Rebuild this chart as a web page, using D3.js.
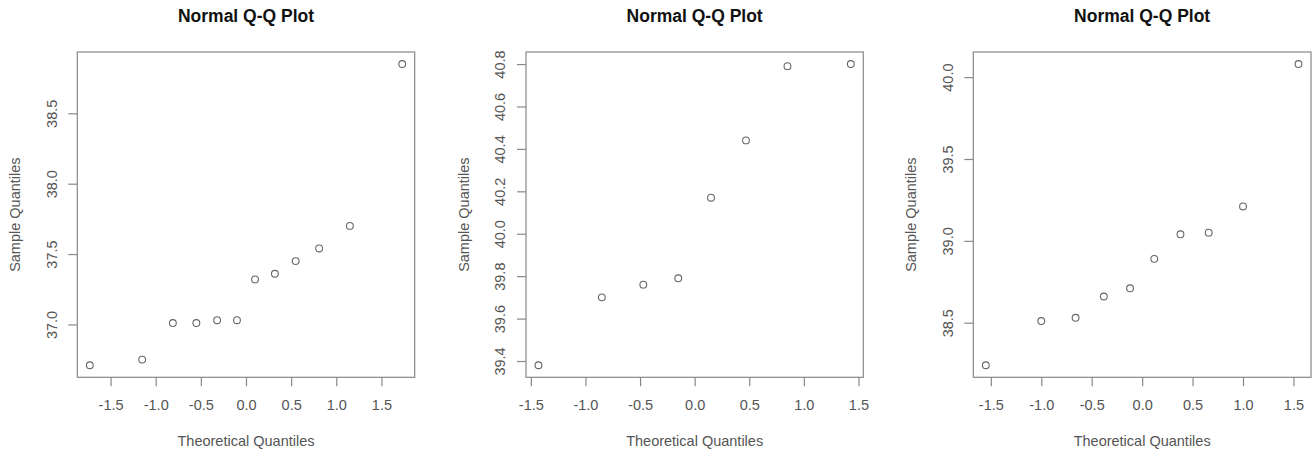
<!DOCTYPE html>
<html lang="en">
<head>
    <meta charset="UTF-8">
    <title>Normal Q-Q Plots</title>
    <script src="https://d3js.org/d3.v7.min.js"></script>
    <style>
        body { margin: 0; background: #fff; font-family: "Liberation Sans", Arial, sans-serif; }
        .tick text { fill: #555; font-size: 14.5px; }
        .tick line { stroke: #888; stroke-width: 1.2; }
        .domain { display: none; }
    </style>
</head>
<body>
    <div id="container"></div>
    <script>

        // data
        const theo1 = [-1.73, -1.15, -0.81, -0.55, -0.32, -0.10, 0.10, 0.32, 0.55, 0.81, 1.15, 1.73];
        const sample1 = [36.71, 36.75, 37.01, 37.01, 37.03, 37.03, 37.32, 37.36, 37.45, 37.54, 37.70, 38.85];

        const theo2 = [-1.43, -0.85, -0.47, -0.15, 0.15, 0.47, 0.85, 1.43];
        const sample2 = [39.38, 39.70, 39.76, 39.79, 40.17, 40.44, 40.79, 40.80];

        const theo3 = [-1.55, -1.00, -0.66, -0.38, -0.12, 0.12, 0.38, 0.66, 1.00, 1.55];
        const sample3 = [38.24, 38.51, 38.53, 38.66, 38.71, 38.89, 39.04, 39.05, 39.21, 40.08];

        // tick labels
        const xTicks = [-1.5, -1.0, -0.5, 0.0, 0.5, 1.0, 1.5];
        const yTicks1 = [37.0, 37.5, 38.0, 38.5];
        const yTicks2 = [39.4, 39.6, 39.8, 40.0, 40.2, 40.4, 40.6, 40.8];
        const yTicks3 = [38.5, 39.0, 39.5, 40.0];

        const titleText = "Normal Q-Q Plot";
        const xTitle = "Theoretical Quantiles";
        const yTitle = "Sample Quantiles";

        const svg = d3.select("#container").append("svg")
            .attr("width", 1316).attr("height", 451);

        const boxTop = 52, boxBottom = 377.3;
        const fmt = d => d3.format(".1f")(d).replace("−", "-");

        // R pads the data range by 4% on each side
        function padded(arr) {
            const [a, b] = d3.extent(arr);
            const p = (b - a) * 0.04;
            return [a - p, b + p];
        }

        const panels = [
            {x: theo1, y: sample1, yt: yTicks1, left: 77.3, right: 414.7},
            {x: theo2, y: sample2, yt: yTicks2, left: 526, right: 863.3},
            {x: theo3, y: sample3, yt: yTicks3, left: 973.3, right: 1311}
        ];

        panels.forEach(p => {
            const x = d3.scaleLinear().domain(padded(p.x)).range([p.left, p.right]);
            const y = d3.scaleLinear().domain(padded(p.y)).range([boxBottom, boxTop]);
            const g = svg.append("g");

            // x axis
            g.append("g")
                .attr("transform", `translate(0,${boxBottom})`)
                .call(d3.axisBottom(x).tickValues(xTicks).tickSize(9).tickPadding(13.5).tickFormat(fmt));

            // y axis, labels rotated like R
            g.append("g")
                .attr("transform", `translate(${p.left},0)`)
                .call(d3.axisLeft(y).tickValues(p.yt).tickSize(9).tickFormat(fmt))
                .selectAll("text")
                .attr("x", 0).attr("dy", 0)
                .attr("text-anchor", "middle")
                .attr("transform", "translate(-20.8,0) rotate(-90)");

            // box
            g.append("rect")
                .attr("x", p.left).attr("y", boxTop)
                .attr("width", p.right - p.left).attr("height", boxBottom - boxTop)
                .attr("fill", "none").attr("stroke", "#888").attr("stroke-width", 1.2);

            // points
            g.selectAll("circle").data(p.x).enter().append("circle")
                .attr("cx", d => x(d))
                .attr("cy", (d, i) => y(p.y[i]))
                .attr("r", 3.4)
                .attr("fill", "none").attr("stroke", "#666").attr("stroke-width", 1.1);

            const cx = (p.left + p.right) / 2;

            g.append("text")
                .attr("x", cx).attr("y", 22.3)
                .attr("text-anchor", "middle")
                .style("font-size", "17.5px").style("font-weight", "bold").style("fill", "#111")
                .text(titleText);

            g.append("text")
                .attr("x", cx).attr("y", boxBottom + 68.7)
                .attr("text-anchor", "middle")
                .style("font-size", "14.5px").style("fill", "#555")
                .text(xTitle);

            g.append("text")
                .attr("transform", `translate(${p.left - 57},${(boxTop + boxBottom) / 2}) rotate(-90)`)
                .attr("text-anchor", "middle")
                .style("font-size", "14.5px").style("fill", "#555")
                .text(yTitle);
        });

    </script>
</body>
</html>
